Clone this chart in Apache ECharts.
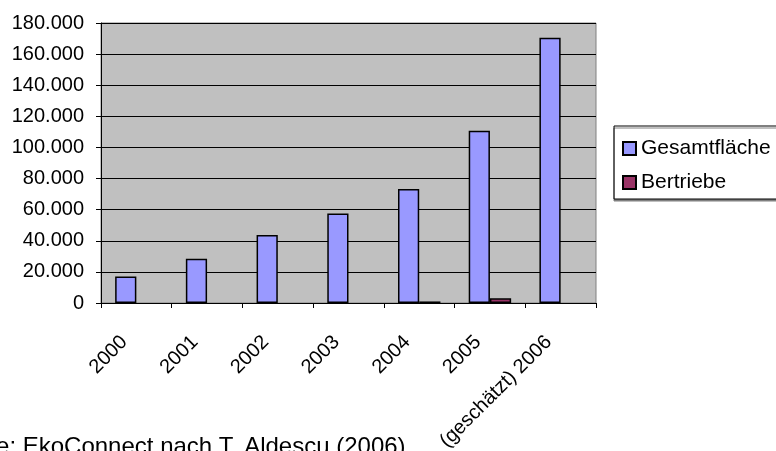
<!DOCTYPE html>
<html>
<head>
<meta charset="utf-8">
<script src="https://cdn.jsdelivr.net/npm/echarts@6/dist/echarts.min.js"></script>
<style>
html,body{margin:0;padding:0;background:#fff;}
#c{width:776px;height:451px;}
</style>
</head>
<body>
<div id="c"></div>
<script>
var categories = ['2000', '2001', '2002', '2003', '2004', '2005', '(geschätzt) 2006'];
var gesamtflaeche = [17000, 28500, 43700, 57500, 73300, 110800, 170500];
var betriebe = [null, null, null, null, 1000, 3000, null];
var seriesNames = ['Gesamtfläche', 'Bertriebe'];
var sourceText = 'Quelle: EkoConnect nach T. Aldescu (2006)';

var FONT = '"Liberation Sans", Arial, sans-serif';
var chart = echarts.init(document.getElementById('c'), null, {renderer: 'canvas'});
chart.setOption({
  animation: false,
  backgroundColor: '#ffffff',
  textStyle: {fontFamily: FONT, color: '#000'},
  grid: {
    left: 101, top: 23, right: 180, bottom: 148,
    containLabel: false, outerBoundsMode: 'none',
    show: true, backgroundColor: '#C0C0C0', borderColor: '#808080', borderWidth: 1
  },
  legend: {
    orient: 'vertical',
    left: 614, top: 126,
    padding: [12, 30, 6, 8],
    itemGap: 13,
    itemWidth: 13, itemHeight: 13,
    icon: 'rect',
    backgroundColor: '#ffffff',
    borderColor: '#000000', borderWidth: 1,
    shadowColor: '#808080', shadowOffsetY: 2, shadowOffsetX: 0, shadowBlur: 0,
    textStyle: {fontFamily: FONT, fontSize: 21, color: '#000', lineHeight: 20, padding: [0,0,0,0]},
    data: seriesNames
  },
  xAxis: {
    type: 'category',
    data: categories,
    axisLine: {lineStyle: {color: '#000', width: 1}},
    axisTick: {show: true, length: 5, alignWithLabel: false, lineStyle: {color: '#000'}},
    axisLabel: {
      rotate: 45, interval: 0, margin: 24, padding: [0, 17, 0, 0],
      fontFamily: FONT, fontSize: 20, color: '#000'
    },
    splitLine: {show: false}
  },
  yAxis: {
    type: 'value',
    min: 0, max: 180000, interval: 20000,
    axisLine: {show: true, lineStyle: {color: '#000', width: 1}},
    axisTick: {show: true, length: 5, lineStyle: {color: '#000'}},
    axisLabel: {
      margin: 17, fontFamily: FONT, fontSize: 20, color: '#000',
      formatter: function (v) {
        return v === 0 ? '0' : String(v).replace(/\B(?=(\d{3})+(?!\d))/g, '.');
      }
    },
    splitLine: {show: true, lineStyle: {color: '#000', width: 1}}
  },
  series: [
    {
      name: seriesNames[0], type: 'bar', data: gesamtflaeche,
      barGap: '0%', barCategoryGap: '40%',
      itemStyle: {color: '#9999FF', borderColor: '#000', borderWidth: 1.5}
    },
    {
      name: seriesNames[1], type: 'bar', data: betriebe,
      barGap: '0%', barCategoryGap: '40%',
      itemStyle: {color: '#993366', borderColor: '#000', borderWidth: 1.5}
    }
  ],
  graphic: [{
    type: 'text', left: -60, top: 435,
    style: {text: sourceText, font: '24px ' + FONT, fill: '#000'}
  }]
});
</script>
</body>
</html>
